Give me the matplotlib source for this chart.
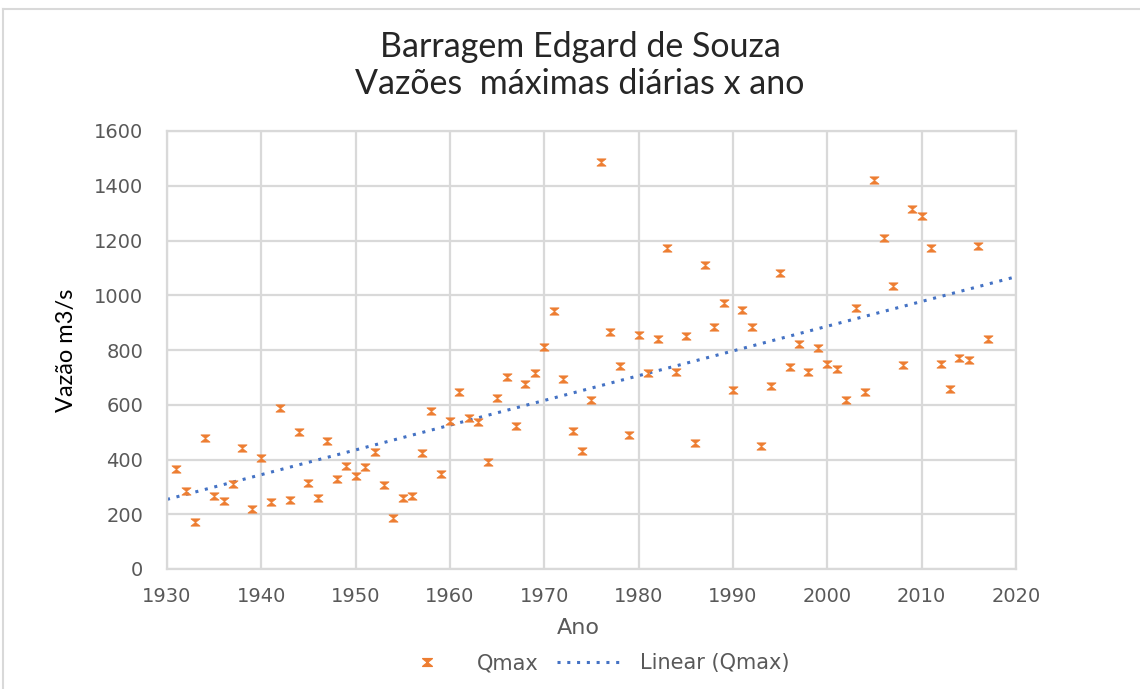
import numpy as np
import matplotlib.pyplot as plt
from matplotlib.path import Path
from matplotlib.lines import Line2D

# dados (vazão máxima diária por ano)
anos = np.arange(1931, 2018)
qmax = [366, 286, 172, 477, 266, 248, 310, 443, 221, 405,
        245, 588, 252, 500, 313, 260, 466, 329, 378, 340,
        373, 428, 308, 186, 259, 266, 424, 577, 347, 541,
        645, 552, 536, 390, 623, 702, 523, 675, 717, 812,
        943, 695, 504, 431, 618, 1486, 867, 741, 489, 855,
        715, 840, 1173, 718, 852, 459, 1111, 885, 970, 653,
        947, 885, 450, 668, 1081, 738, 822, 721, 808, 749,
        729, 619, 954, 645, 1421, 1210, 1034, 745, 1314, 1291,
        1173, 748, 657, 771, 764, 1180, 841]

xticks = np.arange(1930, 2021, 10)
yticks = np.arange(0, 1601, 200)

laranja = '#ED7D31'
azul = '#4472C4'
cinza_txt = '#595959'

# marcador tipo "ampulheta" parecido com o do Excel
ampulheta = Path([(-1, 0.8), (1, 0.8), (-1, -0.8), (1, -0.8), (-1, 0.8)],
                 [Path.MOVETO, Path.LINETO, Path.LINETO, Path.LINETO, Path.CLOSEPOLY])

fig = plt.figure(figsize=(11.4, 6.89), dpi=100)
ax = fig.add_axes([167 / 1140, 1 - 569 / 689, (1016 - 167) / 1140, (569 - 131) / 689])

ax.scatter(anos, qmax, marker=ampulheta, s=42, color=laranja, linewidths=0.6, zorder=3)

# linha de tendência linear
coef = np.polyfit(anos, qmax, 1)
x_tend = np.array([1930, 2020])
ax.plot(x_tend, np.polyval(coef, x_tend), color=azul, linestyle=(0, (1, 2.2)),
        linewidth=2.2, zorder=2)

ax.set_xlim(1930, 2020)
ax.set_ylim(0, 1600)
ax.set_xticks(xticks)
ax.set_yticks(yticks)
ax.grid(True, color='#D9D9D9', linewidth=1.6)
ax.set_axisbelow(True)
for s in ax.spines.values():
    s.set_color('#D9D9D9')
    s.set_linewidth(1.6)
ax.tick_params(length=0, labelsize=14, labelcolor=cinza_txt)
ax.tick_params(axis='x', pad=13)
ax.tick_params(axis='y', pad=17)

ax.set_xlabel('Ano', fontsize=16, color=cinza_txt)
ax.xaxis.set_label_coords((578 - 167) / 849, -49 / 438)
ax.set_ylabel('Vazão m3/s', fontsize=17, family='Lato', color='black', labelpad=12)

fig.text(580 / 1140, 1 - 47 / 689, 'Barragem Edgard de Souza', ha='center', va='center',
         fontsize=24.5, family='Lato', color='#262626')
fig.text(580 / 1140, 1 - 84 / 689, 'Vazões  máximas diárias x ano', ha='center', va='center',
         fontsize=24.5, family='Lato', color='#262626')

# borda clara do gráfico
fig.add_artist(Line2D([3 / 1140, 1], [1 - 9 / 689, 1 - 9 / 689],
                      color='#D9D9D9', linewidth=1.5))
fig.add_artist(Line2D([3 / 1140, 3 / 1140], [1 - 9 / 689, 0], color='#D9D9D9', linewidth=1.5))

leg_handles = [
    Line2D([], [], marker=ampulheta, markersize=7, color=laranja, linestyle='none'),
    Line2D([], [], color=azul, linestyle=(0, (1, 2.2)), linewidth=2.2),
]
fig.legend(leg_handles, ['Qmax', 'Linear (Qmax)'], loc='center', ncol=2,
           bbox_to_anchor=(0.519, 1 - 663 / 689), frameon=False, fontsize=15,
           labelcolor=cinza_txt, handlelength=3.2, columnspacing=0.9, handletextpad=0.8)

fig.savefig('out.png', dpi=100, facecolor='white')
